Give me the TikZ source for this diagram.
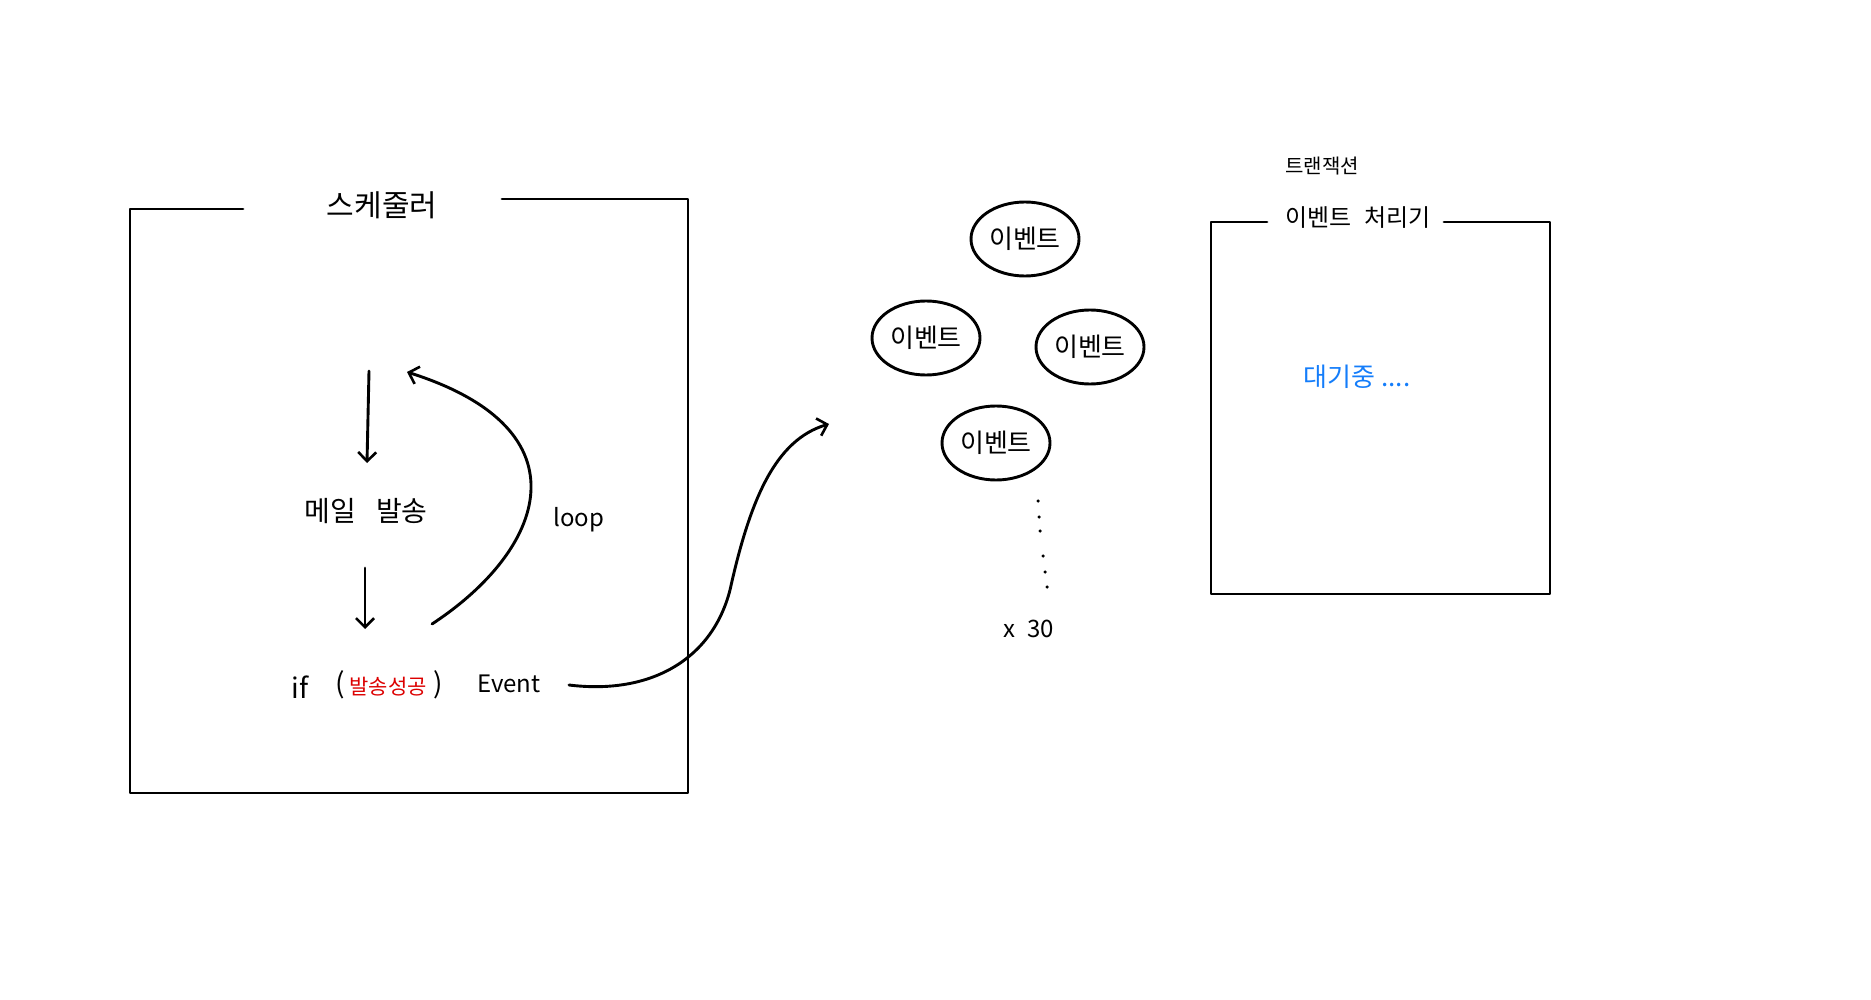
\documentclass[tikz,border=0pt]{standalone}
\usepackage{fontspec}
\setmainfont{Noto Sans CJK KR}
\usetikzlibrary{arrows.meta,shapes.geometric}
\definecolor{redtxt}{RGB}{220,0,0}
\definecolor{bluetxt}{RGB}{20,125,250}
\tikzset{
  pen/.style={line width=2.9pt, line cap=round, line join=round, black},
  arr/.style={pen, -{Straight Barb[length=9pt,width=18pt,line width=2.6pt]}},
  lbl/.style={inner sep=1pt, font=\fontsize{28}{32}\selectfont},
  small/.style={inner sep=1pt, font=\fontsize{24}{28}\selectfont},
  evt/.style={pen, ellipse, draw, minimum width=108pt, minimum height=74pt, inner sep=0pt, font=\fontsize{26}{30}\selectfont},
  dotm/.style={circle, fill=black, inner sep=0pt, minimum size=3.5pt}
}
\begin{document}
\begin{tikzpicture}[x=1pt,y=-1pt]
\useasboundingbox (0,0) rectangle (1871,1000);
% left box
\coordinate (L1) at (243,209);
\coordinate (L2) at (130,209);
\coordinate (L3) at (130,793);
\coordinate (L4) at (688,793);
\coordinate (L5) at (688,199);
\coordinate (L6) at (502,199);
\draw[pen] (L1) -- (L2) -- (L3) -- (L4) -- (L5) -- (L6);
\node[lbl, font=\fontsize{30}{34}\selectfont] (sched) at (382,205) {스케줄러};
\coordinate (a1s) at (369,371);
\node[lbl] (mail) at (366,511) {메일\enspace\ 발송};
\coordinate (a1e) at (367,463);
\draw[arr] (a1s) -- (a1e);
\coordinate (a2s) at (365,568);
\coordinate (a2e) at (365,629);
\draw[arr] (a2s) -- (a2e);
\node[small, font=\fontsize{28}{32}\selectfont] (ifx) at (300,687) {if};
\node[small, font=\fontsize{28}{32}\selectfont] (lp) at (340,685) {(};
\node[small, text=redtxt, font=\fontsize{21}{25}\selectfont] (cond) at (388,687) {발송성공};
\node[small, font=\fontsize{28}{32}\selectfont] (rp) at (438,685) {)};
\node[small] (event) at (509,684) {Event};
% loop
\coordinate (ls) at (432,624);
\coordinate (le) at (407,372);
\draw[arr] (ls) .. controls (545,550) and (590,430) .. (le);
\node[small] (loop) at (579,520) {loop};
% curve to events
\coordinate (cs) at (569,685);
\coordinate (cm) at (730,590);
\coordinate (ce) at (829,424);
\draw[arr] (cs) .. controls (650,695) and (712,660) .. (cm) .. controls (750,500) and (775,440) .. (ce);
% events
\node[evt] (e1) at (1025,239) {이벤트};
\node[evt] (e2) at (926,338) {이벤트};
\node[evt] (e3) at (1090,347) {이벤트};
\node[evt] (e4) at (996,443) {이벤트};
\node[dotm] (d1) at (1038,501) {};
\node[dotm] (d2) at (1039,517) {};
\node[dotm] (d3) at (1040,531) {};
\node[dotm] (d4) at (1043,556) {};
\node[dotm] (d5) at (1045,572) {};
\node[dotm] (d6) at (1047,587) {};
\node[small] (x30) at (1029,629) {x\enspace 30};
% right box
\coordinate (R1) at (1267,222);
\coordinate (R2) at (1211,222);
\coordinate (R3) at (1211,594);
\coordinate (R4) at (1550,594);
\coordinate (R5) at (1550,222);
\coordinate (R6) at (1444,222);
\draw[pen] (R1) -- (R2) -- (R3) -- (R4) -- (R5) -- (R6);
\node[small, font=\fontsize{20}{24}\selectfont] (tx) at (1322,166) {트랜잭션};
\node[small] (proc) at (1358,218) {이벤트\enspace 처리기};
\node[small, text=bluetxt, font=\fontsize{26}{30}\selectfont] (wait) at (1357,377) {대기중 ....};
\end{tikzpicture}
\end{document}
